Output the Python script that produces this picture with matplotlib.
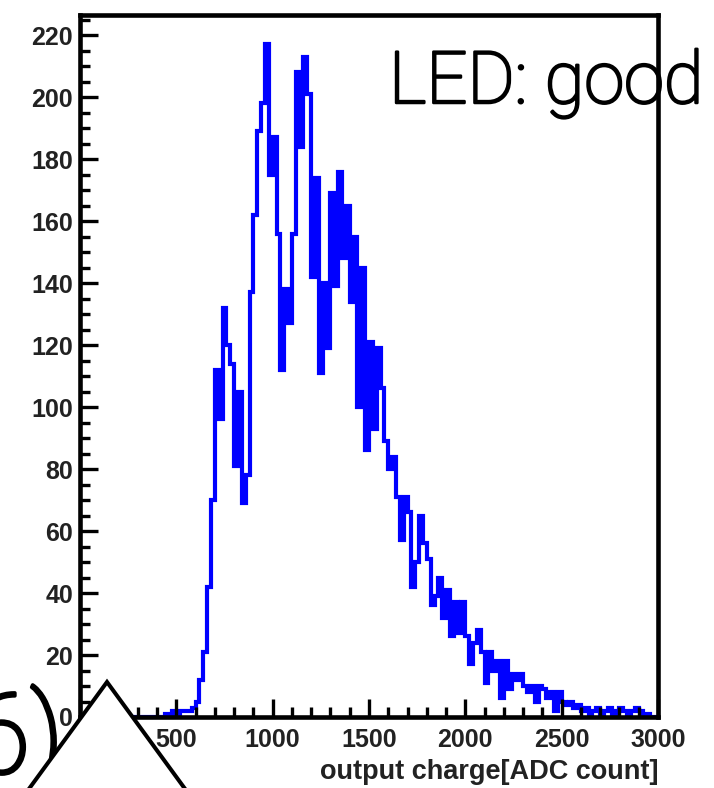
import matplotlib
matplotlib.use("Agg")

import matplotlib.pyplot as plt
import matplotlib.patheffects as pe
import numpy as np
from matplotlib.patches import Polygon
from matplotlib.ticker import MultipleLocator


###############################################################################
# Data
###############################################################################

BIN_WIDTH = 20

# counts per 20-ADC bin, 0 .. 3000
counts = [
    0, 0, 0, 0, 0, 0, 0, 0, 0, 0,
    0, 0, 0, 0, 0, 0, 0, 0, 0, 0,
    0, 0, 1, 1, 2, 1, 2, 2, 2, 3,
    5, 12, 21, 42, 70, 112, 96, 132, 120, 114,
    81, 105, 69, 78, 137, 162, 189, 198, 217, 175,
    187, 156, 112, 138, 127, 156, 208, 184, 213, 201,
    142, 174, 111, 140, 119, 169, 139, 176, 148, 165,
    134, 155, 100, 145, 86, 121, 93, 119, 106, 89,
    80, 84, 71, 57, 71, 66, 42, 50, 65, 56,
    51, 36, 39, 45, 32, 41, 26, 37, 27, 37,
    26, 17, 24, 28, 21, 11, 21, 15, 18, 6,
    18, 9, 14, 12, 14, 10, 8, 10, 5, 10,
    9, 6, 8, 2, 8, 5, 4, 5, 3, 4,
    2, 3, 1, 2, 3, 1, 2, 3, 0, 2,
    3, 2, 1, 2, 3, 2, 1, 1, 0, 0,
]

x_range = (0, 3000)
y_range = (0, 226.5)

x_label = "output charge[ADC count]"
status_label = "LED: good"
panel_label = "(6)"


###############################################################################
# Figure
###############################################################################

W, H = 714, 788

fig = plt.figure(figsize=(W / 100, H / 100), dpi=100)

ax = fig.add_axes([80 / W, 1 - 717 / H, 578 / W, 702 / H])

edges = BIN_WIDTH * np.arange(len(counts) + 1)

ax.stairs(
    counts,
    edges,
    color="#0000ff",
    linewidth=3.0,
)

ax.set_xlim(*x_range)
ax.set_ylim(*y_range)

ax.xaxis.set_major_locator(MultipleLocator(500))
ax.xaxis.set_minor_locator(MultipleLocator(100))
ax.yaxis.set_major_locator(MultipleLocator(20))
ax.yaxis.set_minor_locator(MultipleLocator(5))

ax.tick_params(
    which="both",
    direction="in",
    width=2.4,
    top=False,
    right=False,
)
ax.tick_params(which="major", length=13)
ax.tick_params(which="minor", length=7)
ax.tick_params(axis="y", which="major", pad=5)
ax.tick_params(axis="x", which="major", pad=8)

for label in ax.get_xticklabels() + ax.get_yticklabels():
    label.set_fontfamily("Liberation Sans")
    label.set_fontweight("bold")
    label.set_fontsize(18)
    label.set_color("#222222")

for spine in ax.spines.values():
    spine.set_linewidth(3.3)

ax.set_xlabel(
    x_label,
    loc="right",
    fontsize=19.5,
    fontweight="bold",
    family="Liberation Sans",
    color="#222222",
    labelpad=5,
)


###############################################################################
# Annotations
###############################################################################

# light face thickened a little with an outline stroke
thicken = [pe.withStroke(linewidth=1.8, foreground="black")]

fig.text(
    389 / W, 1 - 103 / H,
    status_label,
    fontsize=52,
    family="Roboto",
    fontweight="light",
    ha="left",
    va="baseline",
    zorder=3,
    path_effects=thicken,
)

fig.text(
    64 / W, 1 - 773 / H,
    panel_label,
    fontsize=80,
    family="Roboto",
    fontweight="light",
    ha="right",
    va="baseline",
    zorder=3,
    path_effects=[pe.withStroke(linewidth=2.6, foreground="black")],
)

# white caret drawn over the lower-left corner
apex_x, apex_y = 107, 682
depth = 130
caret = Polygon(
    [
        (apex_x / W, 1 - apex_y / H),
        ((apex_x + 0.73 * depth) / W, 1 - (apex_y + depth) / H),
        ((apex_x - 0.73 * depth) / W, 1 - (apex_y + depth) / H),
    ],
    closed=True,
    transform=fig.transFigure,
    facecolor="white",
    edgecolor="black",
    linewidth=2.9,
    zorder=5,
    clip_on=False,
)
fig.add_artist(caret)

fig.savefig("out.png", dpi=100)
